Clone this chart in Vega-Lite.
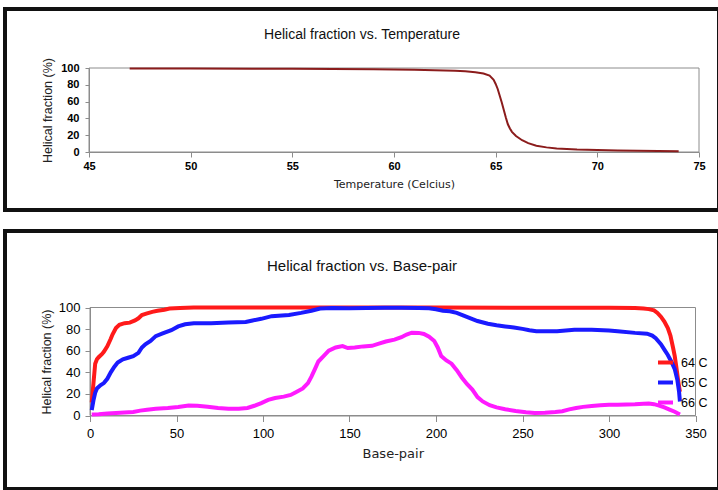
{
  "$schema": "https://vega.github.io/schema/vega-lite/v6.json",
  "padding": {"left": 3, "top": 7, "right": 0, "bottom": 0},
  "bounds": "flush",
  "spacing": 21,
  "background": "white",
  "datasets": {
    "temp": [
      {"t": 47, "h": 99.5}, {"t": 50, "h": 99.4}, {"t": 53, "h": 99.2}, {"t": 55, "h": 99}, {"t": 57, "h": 98.8},
      {"t": 59, "h": 98.4}, {"t": 60, "h": 98.2}, {"t": 61, "h": 97.8}, {"t": 62, "h": 97.3}, {"t": 63, "h": 96.6},
      {"t": 63.5, "h": 96}, {"t": 64, "h": 95}, {"t": 64.4, "h": 93.5}, {"t": 64.7, "h": 91}, {"t": 64.9, "h": 86},
      {"t": 65.0, "h": 81}, {"t": 65.1, "h": 75}, {"t": 65.2, "h": 67}, {"t": 65.3, "h": 59}, {"t": 65.4, "h": 50},
      {"t": 65.5, "h": 41}, {"t": 65.6, "h": 33}, {"t": 65.7, "h": 28}, {"t": 65.8, "h": 24}, {"t": 66.0, "h": 19},
      {"t": 66.3, "h": 14}, {"t": 66.6, "h": 10.5}, {"t": 67.0, "h": 7.5}, {"t": 67.5, "h": 5.5}, {"t": 68.0, "h": 4.3},
      {"t": 69.0, "h": 3}, {"t": 70.0, "h": 2.3}, {"t": 71, "h": 1.8}, {"t": 72, "h": 1.4}, {"t": 73, "h": 1.1}, {"t": 74, "h": 0.8}
    ],
    "bp": [
      {"s": "64 C", "bp": 1, "h": 12}, {"s": "64 C", "bp": 2, "h": 30}, {"s": "64 C", "bp": 3, "h": 48}, {"s": "64 C", "bp": 4, "h": 52},
      {"s": "64 C", "bp": 5, "h": 54}, {"s": "64 C", "bp": 7, "h": 57}, {"s": "64 C", "bp": 8, "h": 59}, {"s": "64 C", "bp": 10, "h": 64},
      {"s": "64 C", "bp": 12, "h": 71}, {"s": "64 C", "bp": 13, "h": 75}, {"s": "64 C", "bp": 15, "h": 81}, {"s": "64 C", "bp": 17, "h": 84},
      {"s": "64 C", "bp": 20, "h": 85.5}, {"s": "64 C", "bp": 23, "h": 86}, {"s": "64 C", "bp": 26, "h": 88}, {"s": "64 C", "bp": 28, "h": 90},
      {"s": "64 C", "bp": 30, "h": 93}, {"s": "64 C", "bp": 33, "h": 94.5}, {"s": "64 C", "bp": 36, "h": 96}, {"s": "64 C", "bp": 39, "h": 97},
      {"s": "64 C", "bp": 43, "h": 98}, {"s": "64 C", "bp": 46, "h": 99}, {"s": "64 C", "bp": 52, "h": 99.6}, {"s": "64 C", "bp": 60, "h": 100},
      {"s": "64 C", "bp": 100, "h": 100}, {"s": "64 C", "bp": 150, "h": 100}, {"s": "64 C", "bp": 200, "h": 100}, {"s": "64 C", "bp": 250, "h": 99.8},
      {"s": "64 C", "bp": 300, "h": 99.8}, {"s": "64 C", "bp": 315, "h": 99.5}, {"s": "64 C", "bp": 320, "h": 99}, {"s": "64 C", "bp": 323, "h": 98.5},
      {"s": "64 C", "bp": 326, "h": 97.3}, {"s": "64 C", "bp": 328, "h": 95}, {"s": "64 C", "bp": 330, "h": 91.5}, {"s": "64 C", "bp": 332, "h": 87},
      {"s": "64 C", "bp": 334, "h": 81}, {"s": "64 C", "bp": 335.5, "h": 74}, {"s": "64 C", "bp": 337, "h": 63}, {"s": "64 C", "bp": 338, "h": 55},
      {"s": "64 C", "bp": 339, "h": 44}, {"s": "64 C", "bp": 340, "h": 32}, {"s": "64 C", "bp": 341, "h": 22},

      {"s": "65 C", "bp": 1, "h": 5}, {"s": "65 C", "bp": 2, "h": 14}, {"s": "65 C", "bp": 3, "h": 21}, {"s": "65 C", "bp": 4, "h": 25},
      {"s": "65 C", "bp": 6, "h": 28}, {"s": "65 C", "bp": 8, "h": 30}, {"s": "65 C", "bp": 10, "h": 34}, {"s": "65 C", "bp": 12, "h": 40},
      {"s": "65 C", "bp": 14, "h": 45}, {"s": "65 C", "bp": 16, "h": 49}, {"s": "65 C", "bp": 19, "h": 52}, {"s": "65 C", "bp": 22, "h": 53.5},
      {"s": "65 C", "bp": 25, "h": 55}, {"s": "65 C", "bp": 28, "h": 58}, {"s": "65 C", "bp": 30, "h": 63}, {"s": "65 C", "bp": 32, "h": 66},
      {"s": "65 C", "bp": 35, "h": 69}, {"s": "65 C", "bp": 38, "h": 73.5}, {"s": "65 C", "bp": 42, "h": 76}, {"s": "65 C", "bp": 47, "h": 79},
      {"s": "65 C", "bp": 51, "h": 82.5}, {"s": "65 C", "bp": 55, "h": 84.5}, {"s": "65 C", "bp": 60, "h": 85.5}, {"s": "65 C", "bp": 70, "h": 85.5},
      {"s": "65 C", "bp": 80, "h": 86}, {"s": "65 C", "bp": 90, "h": 86.6}, {"s": "65 C", "bp": 94, "h": 88}, {"s": "65 C", "bp": 99, "h": 89.5},
      {"s": "65 C", "bp": 105, "h": 92}, {"s": "65 C", "bp": 115, "h": 93}, {"s": "65 C", "bp": 122, "h": 95}, {"s": "65 C", "bp": 128, "h": 97},
      {"s": "65 C", "bp": 133, "h": 99}, {"s": "65 C", "bp": 140, "h": 99.6}, {"s": "65 C", "bp": 150, "h": 99.4}, {"s": "65 C", "bp": 160, "h": 99.6},
      {"s": "65 C", "bp": 170, "h": 99.8}, {"s": "65 C", "bp": 180, "h": 99.8}, {"s": "65 C", "bp": 190, "h": 99.6}, {"s": "65 C", "bp": 196, "h": 99.2},
      {"s": "65 C", "bp": 200, "h": 98.3}, {"s": "65 C", "bp": 204, "h": 97}, {"s": "65 C", "bp": 208, "h": 96.5}, {"s": "65 C", "bp": 212, "h": 95},
      {"s": "65 C", "bp": 216, "h": 92.5}, {"s": "65 C", "bp": 220, "h": 90}, {"s": "65 C", "bp": 224, "h": 87.5}, {"s": "65 C", "bp": 230, "h": 85},
      {"s": "65 C", "bp": 235, "h": 83.5}, {"s": "65 C", "bp": 240, "h": 82.5}, {"s": "65 C", "bp": 245, "h": 81.5}, {"s": "65 C", "bp": 250, "h": 80.2},
      {"s": "65 C", "bp": 254, "h": 79}, {"s": "65 C", "bp": 258, "h": 78}, {"s": "65 C", "bp": 265, "h": 78}, {"s": "65 C", "bp": 270, "h": 78},
      {"s": "65 C", "bp": 280, "h": 79.3}, {"s": "65 C", "bp": 290, "h": 79.5}, {"s": "65 C", "bp": 300, "h": 78.8}, {"s": "65 C", "bp": 305, "h": 78},
      {"s": "65 C", "bp": 315, "h": 76.5}, {"s": "65 C", "bp": 322, "h": 75.8}, {"s": "65 C", "bp": 325, "h": 74}, {"s": "65 C", "bp": 327, "h": 71.5},
      {"s": "65 C", "bp": 330, "h": 66}, {"s": "65 C", "bp": 332, "h": 61}, {"s": "65 C", "bp": 334, "h": 56}, {"s": "65 C", "bp": 336, "h": 50},
      {"s": "65 C", "bp": 338, "h": 43}, {"s": "65 C", "bp": 339.5, "h": 33}, {"s": "65 C", "bp": 340.5, "h": 22}, {"s": "65 C", "bp": 341, "h": 13},

      {"s": "66 C", "bp": 1, "h": 1}, {"s": "66 C", "bp": 5, "h": 1.2}, {"s": "66 C", "bp": 10, "h": 1.8}, {"s": "66 C", "bp": 15, "h": 2.3},
      {"s": "66 C", "bp": 20, "h": 2.8}, {"s": "66 C", "bp": 25, "h": 3.3}, {"s": "66 C", "bp": 29, "h": 4.5}, {"s": "66 C", "bp": 33, "h": 5.3},
      {"s": "66 C", "bp": 38, "h": 6.2}, {"s": "66 C", "bp": 45, "h": 7}, {"s": "66 C", "bp": 51, "h": 7.9}, {"s": "66 C", "bp": 57, "h": 9.3},
      {"s": "66 C", "bp": 62, "h": 9}, {"s": "66 C", "bp": 68, "h": 8.2}, {"s": "66 C", "bp": 74, "h": 7}, {"s": "66 C", "bp": 80, "h": 6.3},
      {"s": "66 C", "bp": 86, "h": 6.3}, {"s": "66 C", "bp": 91, "h": 7}, {"s": "66 C", "bp": 95, "h": 9}, {"s": "66 C", "bp": 99, "h": 11.5},
      {"s": "66 C", "bp": 103, "h": 14.5}, {"s": "66 C", "bp": 107, "h": 16.2}, {"s": "66 C", "bp": 112, "h": 17.5}, {"s": "66 C", "bp": 116, "h": 19},
      {"s": "66 C", "bp": 119, "h": 21.5}, {"s": "66 C", "bp": 123, "h": 25}, {"s": "66 C", "bp": 126, "h": 30}, {"s": "66 C", "bp": 128, "h": 36},
      {"s": "66 C", "bp": 130, "h": 43}, {"s": "66 C", "bp": 132, "h": 50}, {"s": "66 C", "bp": 135, "h": 55}, {"s": "66 C", "bp": 138, "h": 60},
      {"s": "66 C", "bp": 142, "h": 63}, {"s": "66 C", "bp": 146, "h": 64.3}, {"s": "66 C", "bp": 149, "h": 62.5}, {"s": "66 C", "bp": 153, "h": 63},
      {"s": "66 C", "bp": 158, "h": 64}, {"s": "66 C", "bp": 163, "h": 64.5}, {"s": "66 C", "bp": 167, "h": 66.5}, {"s": "66 C", "bp": 171, "h": 68.5},
      {"s": "66 C", "bp": 176, "h": 70.2}, {"s": "66 C", "bp": 180, "h": 72.5}, {"s": "66 C", "bp": 183, "h": 75}, {"s": "66 C", "bp": 186, "h": 76.7},
      {"s": "66 C", "bp": 190, "h": 76.5}, {"s": "66 C", "bp": 193, "h": 75.5}, {"s": "66 C", "bp": 196, "h": 73}, {"s": "66 C", "bp": 199, "h": 69},
      {"s": "66 C", "bp": 201, "h": 63}, {"s": "66 C", "bp": 203, "h": 55}, {"s": "66 C", "bp": 206, "h": 51}, {"s": "66 C", "bp": 209, "h": 48},
      {"s": "66 C", "bp": 212, "h": 42}, {"s": "66 C", "bp": 215, "h": 35}, {"s": "66 C", "bp": 218, "h": 29}, {"s": "66 C", "bp": 221, "h": 24},
      {"s": "66 C", "bp": 224, "h": 17}, {"s": "66 C", "bp": 227, "h": 13}, {"s": "66 C", "bp": 231, "h": 9.5}, {"s": "66 C", "bp": 235, "h": 7.5},
      {"s": "66 C", "bp": 240, "h": 5.8}, {"s": "66 C", "bp": 246, "h": 4.2}, {"s": "66 C", "bp": 252, "h": 3}, {"s": "66 C", "bp": 257, "h": 2.3},
      {"s": "66 C", "bp": 263, "h": 2.5}, {"s": "66 C", "bp": 269, "h": 3.2}, {"s": "66 C", "bp": 273, "h": 4}, {"s": "66 C", "bp": 277, "h": 5.7},
      {"s": "66 C", "bp": 281, "h": 7}, {"s": "66 C", "bp": 285, "h": 8}, {"s": "66 C", "bp": 290, "h": 8.8}, {"s": "66 C", "bp": 295, "h": 9.5},
      {"s": "66 C", "bp": 300, "h": 10}, {"s": "66 C", "bp": 305, "h": 10}, {"s": "66 C", "bp": 310, "h": 10.2}, {"s": "66 C", "bp": 315, "h": 10.4},
      {"s": "66 C", "bp": 320, "h": 10.8}, {"s": "66 C", "bp": 323, "h": 11}, {"s": "66 C", "bp": 326, "h": 10.5}, {"s": "66 C", "bp": 329, "h": 9.2},
      {"s": "66 C", "bp": 332, "h": 7.5}, {"s": "66 C", "bp": 335, "h": 5.5}, {"s": "66 C", "bp": 338, "h": 3.5}, {"s": "66 C", "bp": 341, "h": 1}
    ]
  },
  "vconcat": [
    {
      "width": 714,
      "height": 201,
      "title": {"text": "Helical fraction vs. Temperature", "offset": -33, "fontSize": 14, "anchor": "middle"},
      "layer": [
        {
          "data": {"values": [{}]},
          "mark": {"type": "rect", "fill": "transparent", "stroke": "#8c8c8c", "strokeWidth": 1},
          "encoding": {
            "x": {"datum": 45, "type": "quantitative"},
            "x2": {"datum": 75},
            "y": {"datum": 0, "type": "quantitative"},
            "y2": {"datum": 100}
          }
        },
        {
          "data": {"name": "temp"},
          "mark": {"type": "line", "color": "#8b1c1c", "strokeWidth": 2},
          "encoding": {
            "x": {
              "field": "t", "type": "quantitative",
              "scale": {"domain": [45, 75], "range": [84, 694], "nice": false, "zero": false},
              "axis": {"title": "Temperature (Celcius)", "values": [45, 50, 55, 60, 65, 70, 75], "offset": -58,
                       "tickSize": 5, "labelPadding": 3, "labelFontSize": 11, "labelFontWeight": "bold",
                       "titleFont": "DejaVu Sans", "titleFontSize": 11, "titlePadding": 7}
            },
            "y": {
              "field": "h", "type": "quantitative",
              "scale": {"domain": [0, 100], "range": [143, 59], "nice": false},
              "axis": {"title": "Helical fraction (%)", "values": [0, 20, 40, 60, 80, 100], "offset": -84,
                       "tickSize": 4, "labelPadding": 6, "labelFontSize": 11, "labelFontWeight": "bold",
                       "titleFontSize": 12.5, "titlePadding": 6}
            }
          }
        }
      ]
    },
    {
      "width": 714,
      "height": 258,
      "title": {"text": "Helical fraction vs. Base-pair", "offset": -43, "fontSize": 15, "anchor": "middle"},
      "layer": [
        {
          "data": {"values": [{}]},
          "mark": {"type": "rect", "fill": "transparent", "stroke": "#8c8c8c", "strokeWidth": 1},
          "encoding": {
            "x": {"datum": 0, "type": "quantitative"},
            "x2": {"datum": 350},
            "y": {"datum": 0, "type": "quantitative"},
            "y2": {"datum": 100}
          }
        },
        {
          "data": {"name": "bp"},
          "mark": {"type": "line", "strokeWidth": 4},
          "encoding": {
            "x": {
              "field": "bp", "type": "quantitative",
              "scale": {"domain": [0, 350], "range": [85, 690.5], "nice": false, "zero": false},
              "axis": {"title": "Base-pair", "values": [0, 50, 100, 150, 200, 250, 300, 350], "offset": -73.5,
                       "tickSize": 6, "labelPadding": 6, "labelFontSize": 13,
                       "titleFont": "DejaVu Sans", "titleFontSize": 13, "titlePadding": 7}
            },
            "y": {
              "field": "h", "type": "quantitative",
              "scale": {"domain": [0, 100], "range": [184.5, 76.5], "nice": false},
              "axis": {"title": "Helical fraction (%)", "values": [0, 20, 40, 60, 80, 100], "offset": -85,
                       "tickSize": 5, "labelPadding": 5, "labelFontSize": 13,
                       "titleFontSize": 12.5, "titlePadding": 5}
            },
            "color": {
              "field": "s", "type": "nominal",
              "scale": {"domain": ["64 C", "65 C", "66 C"], "range": ["#ff1a1a", "#1a1aff", "#ff1aff"]},
              "legend": {"title": null, "orient": "none", "legendX": 651, "legendY": 344, "symbolType": "stroke",
                         "symbolStrokeWidth": 4, "symbolSize": 225, "labelFontSize": 12.5, "labelOffset": 6,
                         "rowPadding": 2, "padding": 0, "labelFont": "Liberation Sans", "labelColor": "#000"}
            }
          }
        }
      ]
    }
  ],
  "config": {
    "view": {"stroke": "#111111", "strokeWidth": 4},
    "font": "Liberation Sans",
    "title": {"font": "Liberation Sans", "fontWeight": "normal", "color": "#111"},
    "axis": {
      "grid": false, "domainColor": "#8c8c8c", "tickColor": "#8c8c8c", "labelColor": "#000",
      "titleColor": "#222", "labelFont": "Liberation Sans", "titleFont": "Liberation Sans",
      "titleFontWeight": "normal", "labelFlush": false
    }
  }
}
